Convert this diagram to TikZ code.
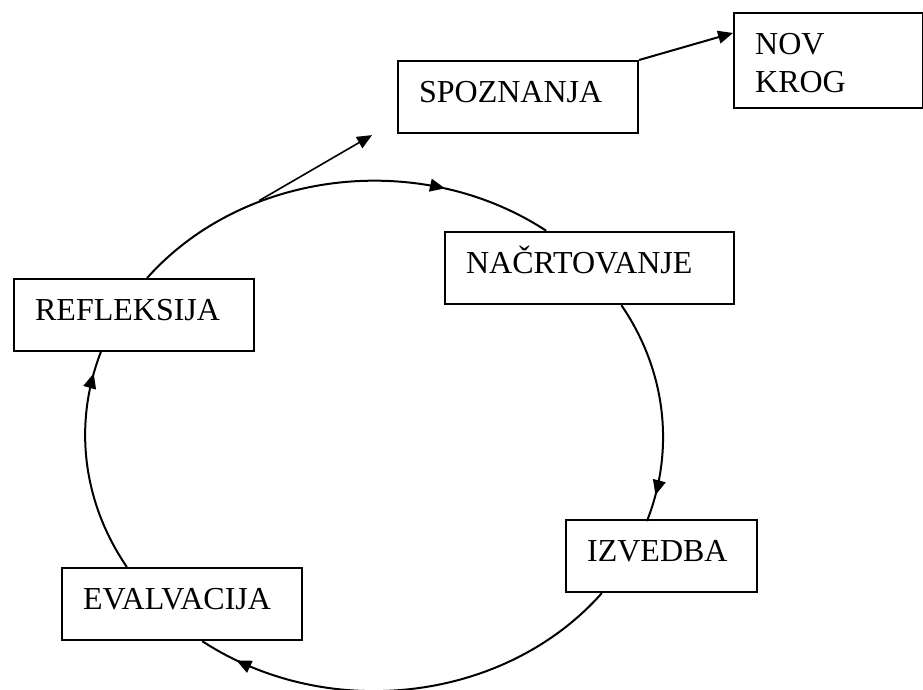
\documentclass[tikz,border=0pt]{standalone}
\usepackage{fontspec}
\setmainfont{Liberation Serif}
\usetikzlibrary{arrows.meta,calc,decorations.markings}
\tikzset{
  >={Triangle[length=5.6pt,width=4.8pt]},
}
\tikzstyle{stage}=[draw,line width=.8pt,anchor=north west,align=left,
  inner xsep=7.9pt,inner ysep=0pt,text height=15.4pt,text depth=11.6pt,
  font=\fontsize{12pt}{14.3pt}\selectfont]
\tikzstyle{loopline}=[line width=.75pt]
\tikzset{flow/.style={loopline,
  decoration={markings,mark=at position #1 with {\arrow{>}}},
  postaction={decorate}}}

\begin{document}
\begin{tikzpicture}[x=.375pt,y=.375pt]
  \useasboundingbox (0,0) rectangle (923,690);
  \coordinate (c) at (373,255);
  % stages
  \node[stage,text width=74.2pt] (spoz) at (397,630) {SPOZNANJA};
  \node[stage,text width=55.1pt,text depth=20.2pt] (nov) at (733,678) {NOV\\KROG};
  \node[stage,text width=92.6pt] (nacrt) at (444,459) {NAČRTOVANJE};
  \node[stage,text width=74.2pt] (refl) at (13,412) {REFLEKSIJA};
  \node[stage,text width=55.8pt] (izv) at (565,171) {IZVEDBA};
  \node[stage,text width=74.2pt] (evalv) at (61,123) {EVALVACIJA};
  % the cycle
  \draw[flow=.747] ([xshift=4.9pt]refl.north)
    arc[start angle=141.8,end angle=53.5,x radius=289,y radius=255];
  \draw[flow=.879] ([xshift=11.9pt]nacrt.south)
    arc[start angle=31.17,end angle=-19.23,x radius=289,y radius=255];
  \draw[flow=.91] ([xshift=-22.4pt]izv.south)
    arc[start angle=322,end angle=233.5,x radius=289,y radius=255];
  \draw[flow=.9] ([xshift=-20.7pt]evalv.north)
    arc[start angle=211.17,end angle=161,x radius=289,y radius=255];
  % way out of the cycle
  \coordinate (fork) at ($(c)+(113.2:289 and 255)$);
  \draw[->,line width=.6pt] (fork) -- ($(spoz.south west)+(-25,-1)$);
  \draw[->,loopline] (spoz.north east) -- ($(nov.north west)+(0,-21)$);
\end{tikzpicture}
\end{document}
